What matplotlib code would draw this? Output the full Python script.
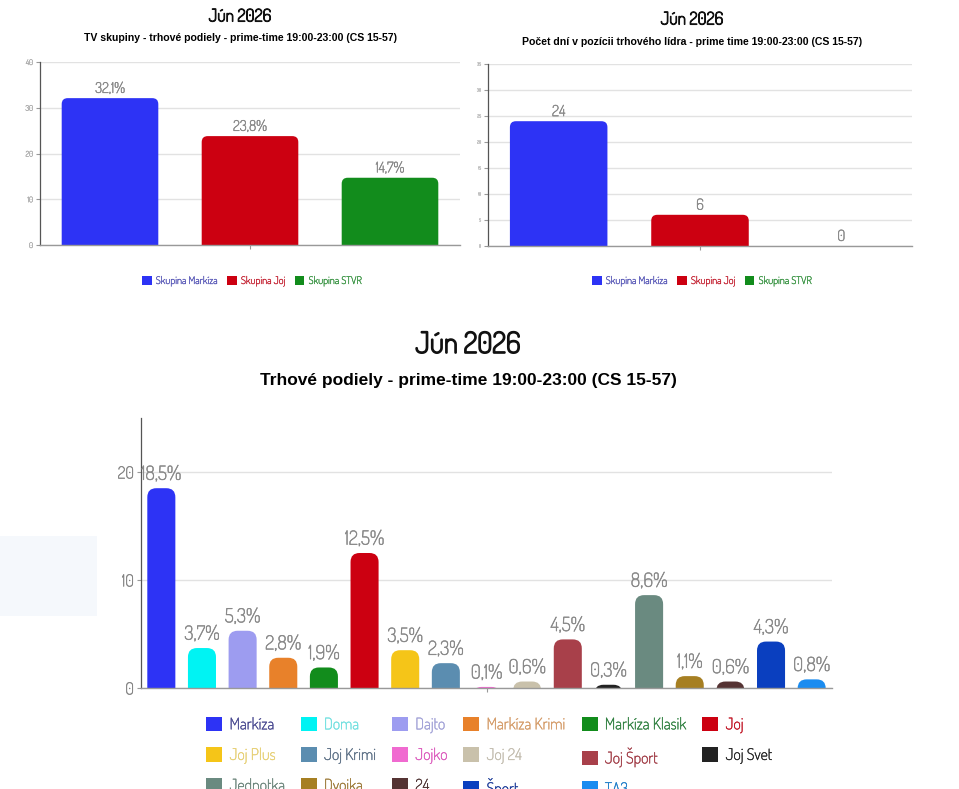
import matplotlib
matplotlib.use('Agg')
import matplotlib.pyplot as plt
import matplotlib.patheffects as pe
from matplotlib.patches import FancyBboxPatch, Rectangle, Patch

plt.rcParams['font.family'] = ['Dosis', 'Rajdhani', 'DejaVu Sans']

# --- data ---
group_names = ['Skupina Markíza', 'Skupina Joj', 'Skupina STVR']
group_share = [32.1, 23.8, 14.7]
leader_days = [24, 6, 0]
group_colors = ['#2d33f5', '#cc0011', '#128c1c']
group_text_colors = ['#5a5ab8', '#c52535', '#3a9444']

channels = ['Markíza', 'Doma', 'Dajto', 'Markíza Krimi', 'Markíza Klasik', 'Joj',
            'Joj Plus', 'Joj Krimi', 'Jojko', 'Joj 24', 'Joj Šport', 'Joj Svet',
            'Jednotka', 'Dvojka', '24', 'Šport', 'TA3']
channel_share = [18.5, 3.7, 5.3, 2.8, 1.9, 12.5, 3.5, 2.3, 0.1, 0.6, 4.5, 0.3,
                 8.6, 1.1, 0.6, 4.3, 0.8]
channel_colors = ['#2d33f5', '#00f3f3', '#9d9cf0', '#e8812a', '#128c1c', '#cc0011',
                  '#f5c518', '#5b8db0', '#f06ad0', '#c9c1ab', '#a8404a', '#222222',
                  '#6a8a80', '#a67f22', '#553333', '#0a3fbf', '#1a8cf0']
channel_text_colors = ['#484890', '#70e0e0', '#9f9fd6', '#d49a66', '#2f8040', '#c01020',
                       '#e6cf72', '#5a6e84', '#dc58bc', '#c2bcae', '#a03a44', '#222222',
                       '#6a847a', '#9c7a38', '#4a2e2e', '#1a3a98', '#1c7cc8']

# thicken the light rounded font a little
thin = [pe.Stroke(linewidth=0.25), pe.Normal()]
thick = [pe.Stroke(linewidth=0.35), pe.Normal()]
thicker = [pe.Stroke(linewidth=0.8), pe.Normal()]


def fmt(v):
    return f'{v:.1f}'.replace('.', ',') + '%'


def rounded_bars(ax, bars, colors, r_px):
    # swap the plain bars for bars with rounded tops (bottom part clipped at y=0)
    fig = ax.figure
    fig.canvas.draw()
    bb = ax.get_window_extent()
    x0, x1 = ax.get_xlim()
    y0, y1 = ax.get_ylim()
    px_x = bb.width / (x1 - x0)
    px_y = bb.height / (y1 - y0)
    for b, c in zip(bars, colors):
        x, w, h = b.get_x(), b.get_width(), b.get_height()
        b.set_visible(False)
        if h <= 0:
            continue
        r = min(r_px, w * px_x / 2)
        rx = r / px_x
        ry = r / px_y
        p = FancyBboxPatch((x, -2 * ry), w, h + 2 * ry,
                           boxstyle=f'round,pad=0,rounding_size={rx}',
                           mutation_aspect=px_x / px_y, fc=c, ec='none', zorder=3)
        ax.add_patch(p)


def style_axes(ax, tick_size, tick_color):
    for s in ['top', 'right']:
        ax.spines[s].set_visible(False)
    ax.spines['left'].set_color('#555555')
    ax.spines['left'].set_linewidth(0.9)
    ax.spines['bottom'].set_color('#999999')
    ax.spines['bottom'].set_linewidth(1.0)
    ax.spines['bottom'].set_zorder(4)
    ax.grid(axis='y', color='#e2e2e2', linewidth=1.0, zorder=0)
    ax.set_axisbelow(True)
    ax.tick_params(axis='y', labelsize=tick_size, colors='#999999', labelcolor=tick_color,
                   length=3, width=0.8, pad=2)
    ax.tick_params(axis='x', length=3, width=0.8, colors='#999999')
    for t in ax.get_yticklabels():
        t.set_path_effects(thin)


fig = plt.figure(figsize=(9.59, 7.89), dpi=100)
fig.patch.set_facecolor('white')

# faint background patch at the left
fig.patches.append(Rectangle((0, 1 - 616 / 789), 97 / 959, 80 / 789, transform=fig.transFigure,
                             fc='#f5f8fc', ec='none', zorder=0))

# --- top left: group shares ---
ax1 = fig.add_axes([40 / 959, 1 - 245 / 789, 420 / 959, 183 / 789])
xs = list(range(len(group_names)))
bars1 = ax1.bar(xs, group_share, width=0.69, color=group_colors)
ax1.set_xlim(-0.5, 2.5)
ax1.set_ylim(0, 40)
ax1.set_yticks([0, 10, 20, 30, 40])
ax1.set_xticks([1])
ax1.set_xticklabels([''])
style_axes(ax1, 5.5, '#aaaaaa')
rounded_bars(ax1, bars1, group_colors, 6)
for x, v in zip(xs, group_share):
    ax1.text(x, v + 0.5, fmt(v), ha='center', va='bottom', fontsize=10.5, color='#888888',
             path_effects=thick)
fig.text(240 / 959, 1 - 17 / 789, 'Jún 2026', ha='center', va='center', fontsize=12.5,
         color='#111111', path_effects=thicker)
fig.text(240 / 959, 1 - 38 / 789, 'TV skupiny - trhové podiely - prime-time 19:00-23:00 (CS 15-57)',
         ha='center', va='center', fontsize=7.6, fontweight='bold', family='Liberation Sans')
h1 = [Patch(fc=c, ec='none') for c in group_colors]
lg1 = fig.legend(h1, group_names, loc='center', bbox_to_anchor=(252 / 959, 1 - 281 / 789),
                 ncol=3, frameon=False, fontsize=7.5, handlelength=0.9, handleheight=0.9,
                 handletextpad=0.4, columnspacing=0.9)
for t, c in zip(lg1.get_texts(), group_text_colors):
    t.set_color(c)
    t.set_path_effects(thin)

# --- top right: days as market leader ---
ax2 = fig.add_axes([488 / 959, 1 - 246 / 789, 424 / 959, 182 / 789])
bars2 = ax2.bar(xs, leader_days, width=0.69, color=group_colors)
ax2.set_xlim(-0.5, 2.5)
ax2.set_ylim(0, 35)
ax2.set_yticks(range(0, 36, 5))
ax2.set_xticks([1])
ax2.set_xticklabels([''])
style_axes(ax2, 3, '#bbbbbb')
rounded_bars(ax2, bars2, group_colors, 6)
for x, v in zip(xs, leader_days):
    ax2.text(x, v + 0.4, str(v), ha='center', va='bottom', fontsize=11, color='#888888',
             path_effects=thick)
fig.text(692 / 959, 1 - 20 / 789, 'Jún 2026', ha='center', va='center', fontsize=12.5,
         color='#111111', path_effects=thicker)
fig.text(692 / 959, 1 - 42 / 789, 'Počet dní v pozícii trhového lídra - prime time 19:00-23:00 (CS 15-57)',
         ha='center', va='center', fontsize=7.6, fontweight='bold', family='Liberation Sans')
lg2 = fig.legend(h1, group_names, loc='center', bbox_to_anchor=(702 / 959, 1 - 281 / 789),
                 ncol=3, frameon=False, fontsize=7.5, handlelength=0.9, handleheight=0.9,
                 handletextpad=0.4, columnspacing=0.9)
for t, c in zip(lg2.get_texts(), group_text_colors):
    t.set_color(c)
    t.set_path_effects(thin)

# --- bottom: channel shares ---
ax3 = fig.add_axes([141 / 959, 1 - 688 / 789, 691 / 959, 270 / 789])
xc = list(range(len(channels)))
bars3 = ax3.bar(xc, channel_share, width=0.69, color=channel_colors)
ax3.set_xlim(-0.5, len(channels) - 0.5)
ax3.set_ylim(0, 25)
ax3.set_yticks([0, 10, 20])
ax3.set_xticks([(len(channels) - 1) / 2])
ax3.set_xticklabels([''])
style_axes(ax3, 12, '#808080')
rounded_bars(ax3, bars3, channel_colors, 9)
for x, v in zip(xc, channel_share):
    ax3.text(x, v + 0.4, fmt(v), ha='center', va='bottom', fontsize=14, color='#888888',
             path_effects=thick)
fig.text(468 / 959, 1 - 345 / 789, 'Jún 2026', ha='center', va='center', fontsize=21,
         color='#111111', path_effects=[pe.Stroke(linewidth=1.2), pe.Normal()])
fig.text(468 / 959, 1 - 380 / 789, 'Trhové podiely - prime-time 19:00-23:00 (CS 15-57)',
         ha='center', va='center', fontsize=12.5, fontweight='bold', family='Liberation Sans')

# legend: 6 columns, filled so that rows read in data order
ncol = 6
order = [r * ncol + c for c in range(ncol) for r in range(3) if r * ncol + c < len(channels)]
h3 = [Patch(fc=channel_colors[i], ec='none') for i in order]
lg3 = fig.legend(h3, [channels[i] for i in order], loc='upper left',
                 bbox_to_anchor=(192 / 959, 1 - 702 / 789), ncol=ncol, frameon=False,
                 fontsize=11.5, handlelength=1.0, handleheight=1.0, handletextpad=0.45,
                 columnspacing=1.0, labelspacing=0.85)
for t, i in zip(lg3.get_texts(), order):
    t.set_color(channel_text_colors[i])
    t.set_path_effects(thin)

fig.savefig('out.png', dpi=100)
